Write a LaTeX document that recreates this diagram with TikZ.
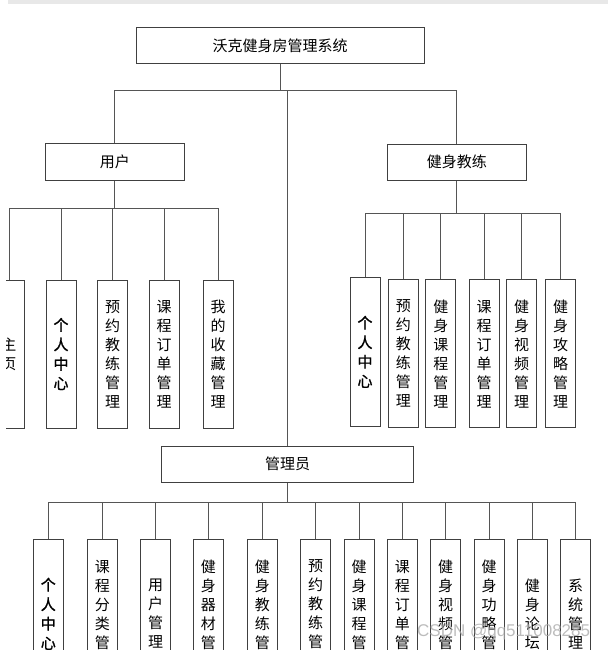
\documentclass[tikz,border=0pt]{standalone}
\usepackage{fontspec}
\setmainfont{Liberation Sans}
\newfontfamily\cjk{Noto Sans CJK SC}
\newfontfamily\cjkbold[FakeBold=1.2]{Noto Sans CJK SC}
\definecolor{linegray}{HTML}{555555}
\definecolor{boxgray}{HTML}{404040}
\definecolor{bandgray}{HTML}{E8E8E8}
\begin{document}
\begin{tikzpicture}[x=1pt,y=-1pt,
  conn/.style={draw=linegray, line width=1pt},
  mainbox/.style={draw=boxgray, line width=1pt, inner sep=0pt, text=black,
    font=\cjk\fontsize{15}{18}\selectfont},
  leaf/.style={draw=boxgray, line width=1pt, inner sep=0pt, anchor=north,
    minimum width=30pt, minimum height=148pt, align=center, text=black,
    font=\cjk\fontsize{15}{19}\selectfont},
  boldleaf/.style={leaf, font=\cjkbold\fontsize{15}{19.5}\selectfont}]
\useasboundingbox (0,0) rectangle (608,650);
\fill[bandgray] (8,0) rectangle (608,4.5);
\clip (6,0) rectangle (608,650);

% bus levels
\coordinate (b0) at (0,90.7);
\coordinate (bu) at (0,208);
\coordinate (bc) at (0,213);
\coordinate (ba) at (0,502.5);

% main boxes
\node[mainbox, minimum width=288pt, minimum height=35.6pt] (sys) at (280,45.5) {沃克健身房管理系统};
\node[mainbox, minimum width=138.3pt, minimum height=36.7pt] (usr) at (114.9,162.3) {用户};
\node[mainbox, minimum width=138.3pt, minimum height=36pt] (coach) at (456.9,162) {健身教练};
\node[mainbox, minimum width=251.6pt, minimum height=36.3pt] (adm) at (287.5,464.2) {管理员};

% top level connectors
\draw[conn] (sys.south) -- (sys.south |- b0);
\draw[conn] (usr.north) |- (coach.north |- b0) -- (coach.north);
\draw[conn] (adm.north) -- (adm.north |- b0);

% user leaves
\node[leaf] (u1) at (9,279.5) {主\\页};
\node[boldleaf] (u2) at (61,279.5) {个\\人\\中\\心};
\node[leaf] (u3) at (112.7,279.5) {预\\约\\教\\练\\管\\理};
\node[leaf] (u4) at (164,279.5) {课\\程\\订\\单\\管\\理};
\node[leaf] (u5) at (218,279.5) {我\\的\\收\\藏\\管\\理};
\draw[conn] (usr.south) -- (usr.south |- bu);
\draw[conn] (u1.north) |- (u5.north |- bu) -- (u5.north);
\foreach \n in {u2,u3,u4} \draw[conn] (\n.north) -- (\n.north |- bu);

% coach leaves
\node[boldleaf, minimum height=149.3pt] (c1) at (365,276.7) {个\\人\\中\\心};
\node[leaf] (c2) at (403.3,279.3) {预\\约\\教\\练\\管\\理};
\node[leaf] (c3) at (440.8,279.3) {健\\身\\课\\程\\管\\理};
\node[leaf] (c4) at (484,279.3) {课\\程\\订\\单\\管\\理};
\node[leaf] (c5) at (521.7,279.3) {健\\身\\视\\频\\管\\理};
\node[leaf] (c6) at (560.7,279.3) {健\\身\\攻\\略\\管\\理};
\draw[conn] (coach.south) -- (coach.south |- bc);
\draw[conn] (c1.north) |- (c6.north |- bc) -- (c6.north);
\foreach \n in {c2,c3,c4,c5} \draw[conn] (\n.north) -- (\n.north |- bc);

% admin leaves
\node[boldleaf] (a1) at (48.3,539.3) {个\\人\\中\\心};
\node[leaf] (a2) at (102.3,539.3) {课\\程\\分\\类\\管\\理};
\node[leaf] (a3) at (155.7,539.3) {用\\户\\管\\理};
\node[leaf] (a4) at (208.3,539.3) {健\\身\\器\\材\\管\\理};
\node[leaf] (a5) at (262.3,539.3) {健\\身\\教\\练\\管\\理};
\node[leaf] (a6) at (315.5,539.3) {预\\约\\教\\练\\管\\理};
\node[leaf] (a7) at (359,539.3) {健\\身\\课\\程\\管\\理};
\node[leaf] (a8) at (402.3,539.3) {课\\程\\订\\单\\管\\理};
\node[leaf] (a9) at (445.7,539.3) {健\\身\\视\\频\\管\\理};
\node[leaf] (a10) at (489,539.3) {健\\身\\功\\略\\管\\理};
\node[leaf] (a11) at (532.3,539.3) {健\\身\\论\\坛};
\node[leaf] (a12) at (575.7,539.3) {系\\统\\管\\理};
\draw[conn] (adm.south) -- (adm.south |- ba);
\draw[conn] (a1.north) |- (a12.north |- ba) -- (a12.north);
\foreach \n in {a2,a3,a4,a5,a6,a7,a8,a9,a10,a11} \draw[conn] (\n.north) -- (\n.north |- ba);

% watermark
\node[anchor=west, text=gray!70, opacity=0.75, font=\fontsize{17}{17}\selectfont, inner sep=0pt] (wm) at (417,632) {CSDN @qq511008285};
\end{tikzpicture}
\end{document}
